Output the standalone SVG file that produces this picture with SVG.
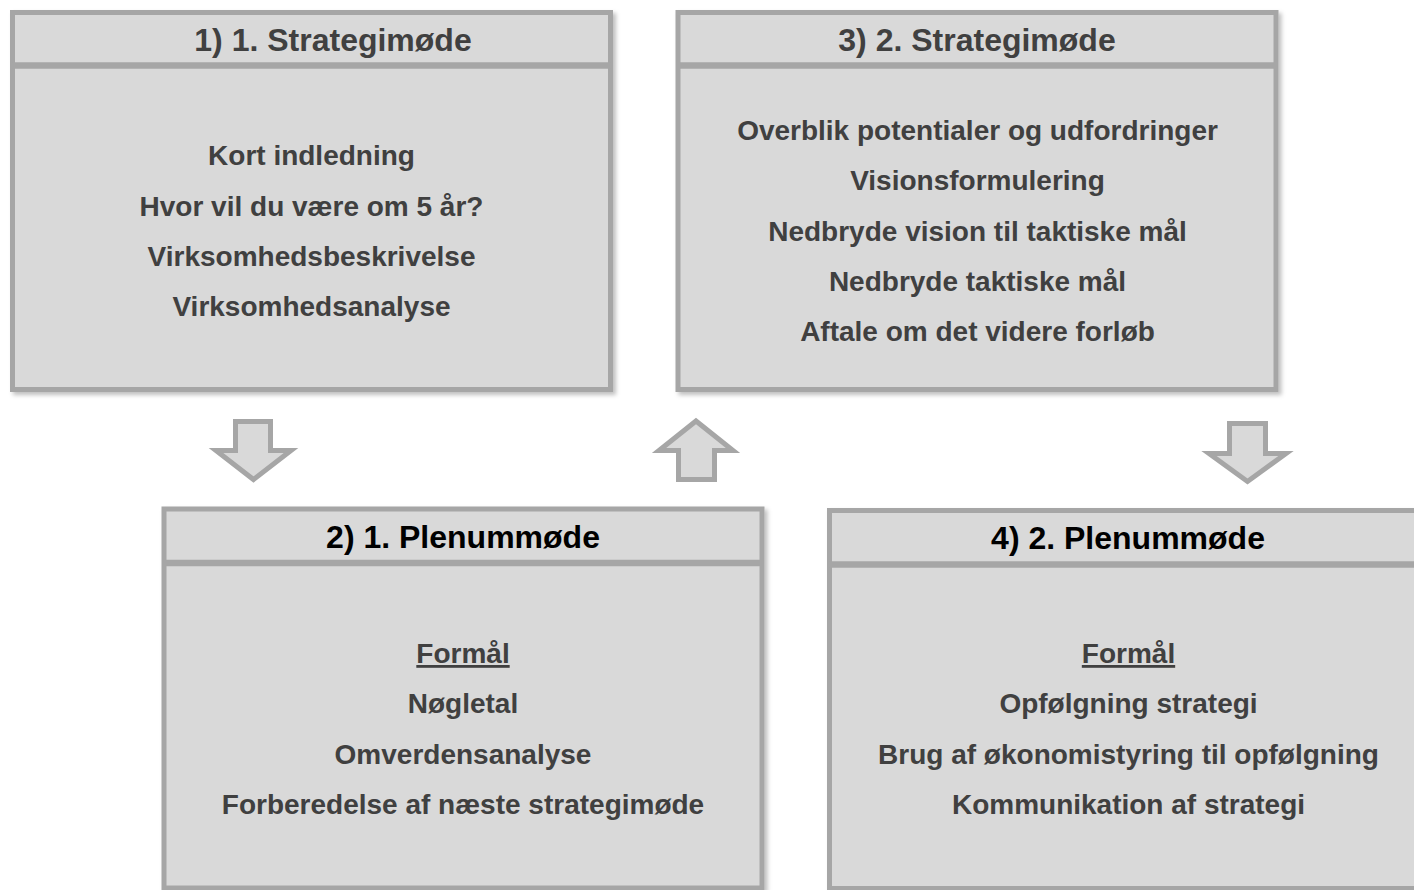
<svg xmlns="http://www.w3.org/2000/svg" width="1414" height="890" viewBox="0 0 1414 890">
<defs>
<filter id="sh" x="-5%" y="-5%" width="110%" height="110%">
<feDropShadow dx="3" dy="3" stdDeviation="2" flood-color="#000" flood-opacity="0.25"/>
</filter>
<style>
.box{fill:#d9d9d9;stroke:#a6a6a6;stroke-width:5}
.div{stroke:#a6a6a6;stroke-width:6.5}
.arr{fill:#d9d9d9;stroke:#a6a6a6;stroke-width:5;stroke-linejoin:miter}
text{font-family:"Liberation Sans",Arial,sans-serif;font-weight:bold;text-anchor:middle}
.t{font-size:32px;fill:#404040}
.tb{font-size:32px;fill:#000}
.b{font-size:28px;fill:#404040}
.u{text-decoration:underline}
</style>
</defs>
<rect width="1414" height="890" fill="#fff"/>
<g id="node1">
<rect class="box" x="12.5" y="12.5" width="598" height="377" filter="url(#sh)"/>
<line class="div" x1="12.5" y1="65.5" x2="610.5" y2="65.5"/>
<text class="t" x="333" y="51">1) 1. Strategimøde</text>
<text class="b" x="311.5" y="165">Kort indledning</text>
<text class="b" x="311.5" y="215.5">Hvor vil du være om 5 år?</text>
<text class="b" x="311.5" y="266">Virksomhedsbeskrivelse</text>
<text class="b" x="311.5" y="316">Virksomhedsanalyse</text>
</g>
<g id="node3">
<rect class="box" x="678" y="12.5" width="598" height="377" filter="url(#sh)"/>
<line class="div" x1="678" y1="65.5" x2="1276" y2="65.5"/>
<text class="t" x="977" y="51">3) 2. Strategimøde</text>
<text class="b" x="977.5" y="140">Overblik potentialer og udfordringer</text>
<text class="b" x="977.5" y="190">Visionsformulering</text>
<text class="b" x="977.5" y="241">Nedbryde vision til taktiske mål</text>
<text class="b" x="977.5" y="291">Nedbryde taktiske mål</text>
<text class="b" x="977.5" y="341">Aftale om det videre forløb</text>
</g>
<g id="node2">
<rect class="box" x="164" y="509" width="598" height="379" filter="url(#sh)"/>
<line class="div" x1="164" y1="563" x2="762" y2="563"/>
<text class="tb" x="463" y="548">2) 1. Plenummøde</text>
<text class="b u" x="463" y="663">Formål</text>
<text class="b" x="463" y="713">Nøgletal</text>
<text class="b" x="463" y="764">Omverdensanalyse</text>
<text class="b" x="463" y="814">Forberedelse af næste strategimøde</text>
</g>
<g id="node4">
<rect class="box" x="829.5" y="510.5" width="598" height="378" filter="url(#sh)"/>
<line class="div" x1="829.5" y1="564.5" x2="1427.5" y2="564.5"/>
<text class="tb" x="1128" y="549">4) 2. Plenummøde</text>
<text class="b u" x="1128.5" y="663">Formål</text>
<text class="b" x="1128.5" y="713">Opfølgning strategi</text>
<text class="b" x="1128.5" y="764">Brug af økonomistyring til opfølgning</text>
<text class="b" x="1128.5" y="814">Kommunikation af strategi</text>
</g>
<g id="connectors">
<polygon class="arr" points="235.5,421.5 270.5,421.5 270.5,450.5 291,450.5 253.5,479.5 216,450.5 235.5,450.5"/>
<polygon class="arr" points="696,421 733,450.5 714.5,450.5 714.5,479.5 678.5,479.5 678.5,450.5 659,450.5"/>
<polygon class="arr" points="1229.5,423.5 1265.5,423.5 1265.5,453.5 1286,453.5 1247.5,481.5 1209,453.5 1229.5,453.5"/>
</g>
</svg>
